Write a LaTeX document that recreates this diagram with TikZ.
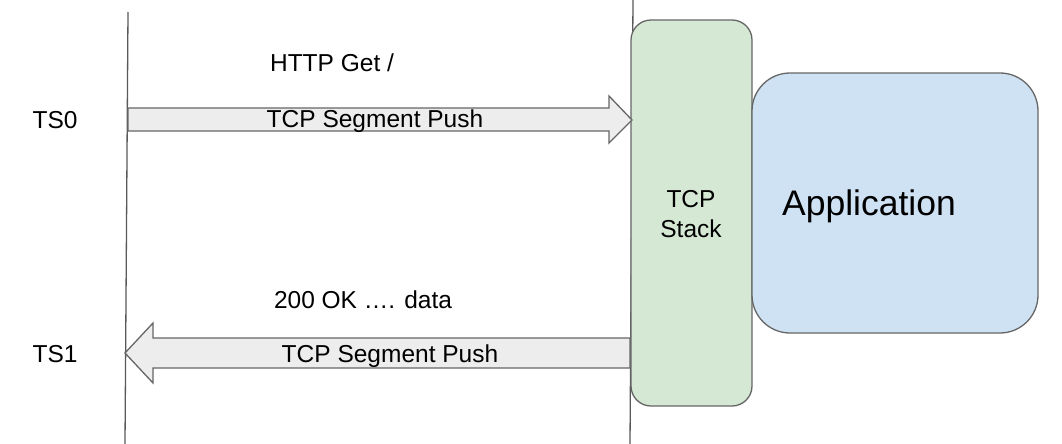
\documentclass[tikz,border=0pt]{standalone}
\usepackage{fontspec}
\setmainfont{Liberation Sans}
\begin{document}
\begin{tikzpicture}[x=1pt,y=-1pt,
  lbl/.style={inner sep=0pt,anchor=base,font=\fontsize{24.5}{30}\selectfont},
  bigarrow/.style={draw=black!60,fill=black!7,line width=1.3pt,line join=miter},
  life/.style={draw=black!65,line width=1.3pt},
  box/.style={draw=black!60,line width=1.3pt}]
\useasboundingbox (0,0) rectangle (1062,444);
% lifelines
\coordinate (l1t) at (128,12); \coordinate (l1b) at (125,444);
\coordinate (l2t) at (633,0); \coordinate (l2b) at (630,444);
\draw[life] (l1t) -- (l1b);
\draw[life] (l2t) -- (l2b);
% boxes
\definecolor{stackgreen}{HTML}{D5E8D4}
\definecolor{appblue}{HTML}{CFE2F3}
\draw[box,fill=stackgreen,rounded corners=20pt] (631,20) rectangle (752,406);
\node[lbl] (stack1) at (691,207) {TCP};
\node[lbl] (stack2) at (691,237) {Stack};
\draw[box,fill=appblue,rounded corners=38pt] (752,73) rectangle (1038,333);
\node[lbl,font=\fontsize{35.5}{40}\selectfont] (app) at (869,215) {Application};
% arrows
\draw[bigarrow] (128,108) -- (609,108) -- (609,96) -- (632,120) -- (609,143) -- (609,131) -- (128,131) -- cycle;
\node[lbl] (m1) at (375,127) {TCP Segment Push};
\draw[bigarrow] (630,338) -- (153,338) -- (153,323) -- (125,353) -- (153,383) -- (153,368) -- (630,368) -- cycle;
\node[lbl] (m2) at (390,362) {TCP Segment Push};
% labels
\node[lbl] (http) at (332,71) {HTTP Get /};
\node[lbl] (ok) at (363,308) {200 OK …. data};
\node[lbl] (ts0) at (55,128) {TS0};
\node[lbl] (ts1) at (55,362) {TS1};
\end{tikzpicture}
\end{document}
